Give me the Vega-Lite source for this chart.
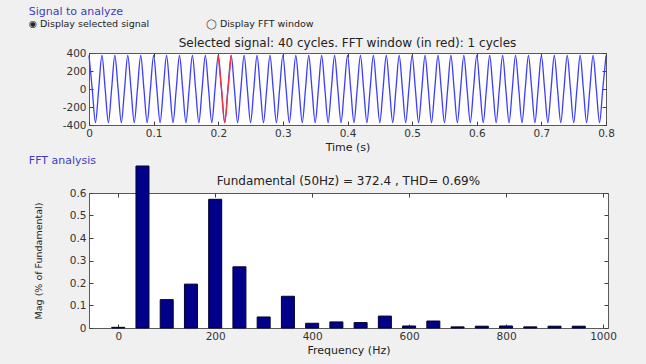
{
  "$schema": "https://vega.github.io/schema/vega-lite/v6.json",
  "background": "#f0f0f0",
  "padding": {"left": 28, "top": 6, "right": 36, "bottom": 17},
  "spacing": 2,
  "datasets": {
    "sig": [
      {"t":0,"v":372.4},{"t":0.005,"v":0},{"t":0.01,"v":-372.4},{"t":0.015,"v":0},
      {"t":0.02,"v":372.4},{"t":0.025,"v":0},{"t":0.03,"v":-372.4},{"t":0.035,"v":0},
      {"t":0.04,"v":372.4},{"t":0.045,"v":0},{"t":0.05,"v":-372.4},{"t":0.055,"v":0},
      {"t":0.06,"v":372.4},{"t":0.065,"v":0},{"t":0.07,"v":-372.4},{"t":0.075,"v":0},
      {"t":0.08,"v":372.4},{"t":0.085,"v":0},{"t":0.09,"v":-372.4},{"t":0.095,"v":0},
      {"t":0.1,"v":372.4},{"t":0.105,"v":0},{"t":0.11,"v":-372.4},{"t":0.115,"v":0},
      {"t":0.12,"v":372.4},{"t":0.125,"v":0},{"t":0.13,"v":-372.4},{"t":0.135,"v":0},
      {"t":0.14,"v":372.4},{"t":0.145,"v":0},{"t":0.15,"v":-372.4},{"t":0.155,"v":0},
      {"t":0.16,"v":372.4},{"t":0.165,"v":0},{"t":0.17,"v":-372.4},{"t":0.175,"v":0},
      {"t":0.18,"v":372.4},{"t":0.185,"v":0},{"t":0.19,"v":-372.4},{"t":0.195,"v":0},
      {"t":0.2,"v":372.4},{"t":0.205,"v":0},{"t":0.21,"v":-372.4},{"t":0.215,"v":0},
      {"t":0.22,"v":372.4},{"t":0.225,"v":0},{"t":0.23,"v":-372.4},{"t":0.235,"v":0},
      {"t":0.24,"v":372.4},{"t":0.245,"v":0},{"t":0.25,"v":-372.4},{"t":0.255,"v":0},
      {"t":0.26,"v":372.4},{"t":0.265,"v":0},{"t":0.27,"v":-372.4},{"t":0.275,"v":0},
      {"t":0.28,"v":372.4},{"t":0.285,"v":0},{"t":0.29,"v":-372.4},{"t":0.295,"v":0},
      {"t":0.3,"v":372.4},{"t":0.305,"v":0},{"t":0.31,"v":-372.4},{"t":0.315,"v":0},
      {"t":0.32,"v":372.4},{"t":0.325,"v":0},{"t":0.33,"v":-372.4},{"t":0.335,"v":0},
      {"t":0.34,"v":372.4},{"t":0.345,"v":0},{"t":0.35,"v":-372.4},{"t":0.355,"v":0},
      {"t":0.36,"v":372.4},{"t":0.365,"v":0},{"t":0.37,"v":-372.4},{"t":0.375,"v":0},
      {"t":0.38,"v":372.4},{"t":0.385,"v":0},{"t":0.39,"v":-372.4},{"t":0.395,"v":0},
      {"t":0.4,"v":372.4},{"t":0.405,"v":0},{"t":0.41,"v":-372.4},{"t":0.415,"v":0},
      {"t":0.42,"v":372.4},{"t":0.425,"v":0},{"t":0.43,"v":-372.4},{"t":0.435,"v":0},
      {"t":0.44,"v":372.4},{"t":0.445,"v":0},{"t":0.45,"v":-372.4},{"t":0.455,"v":0},
      {"t":0.46,"v":372.4},{"t":0.465,"v":0},{"t":0.47,"v":-372.4},{"t":0.475,"v":0},
      {"t":0.48,"v":372.4},{"t":0.485,"v":0},{"t":0.49,"v":-372.4},{"t":0.495,"v":0},
      {"t":0.5,"v":372.4},{"t":0.505,"v":0},{"t":0.51,"v":-372.4},{"t":0.515,"v":0},
      {"t":0.52,"v":372.4},{"t":0.525,"v":0},{"t":0.53,"v":-372.4},{"t":0.535,"v":0},
      {"t":0.54,"v":372.4},{"t":0.545,"v":0},{"t":0.55,"v":-372.4},{"t":0.555,"v":0},
      {"t":0.56,"v":372.4},{"t":0.565,"v":0},{"t":0.57,"v":-372.4},{"t":0.575,"v":0},
      {"t":0.58,"v":372.4},{"t":0.585,"v":0},{"t":0.59,"v":-372.4},{"t":0.595,"v":0},
      {"t":0.6,"v":372.4},{"t":0.605,"v":0},{"t":0.61,"v":-372.4},{"t":0.615,"v":0},
      {"t":0.62,"v":372.4},{"t":0.625,"v":0},{"t":0.63,"v":-372.4},{"t":0.635,"v":0},
      {"t":0.64,"v":372.4},{"t":0.645,"v":0},{"t":0.65,"v":-372.4},{"t":0.655,"v":0},
      {"t":0.66,"v":372.4},{"t":0.665,"v":0},{"t":0.67,"v":-372.4},{"t":0.675,"v":0},
      {"t":0.68,"v":372.4},{"t":0.685,"v":0},{"t":0.69,"v":-372.4},{"t":0.695,"v":0},
      {"t":0.7,"v":372.4},{"t":0.705,"v":0},{"t":0.71,"v":-372.4},{"t":0.715,"v":0},
      {"t":0.72,"v":372.4},{"t":0.725,"v":0},{"t":0.73,"v":-372.4},{"t":0.735,"v":0},
      {"t":0.74,"v":372.4},{"t":0.745,"v":0},{"t":0.75,"v":-372.4},{"t":0.755,"v":0},
      {"t":0.76,"v":372.4},{"t":0.765,"v":0},{"t":0.77,"v":-372.4},{"t":0.775,"v":0},
      {"t":0.78,"v":372.4},{"t":0.785,"v":0},{"t":0.79,"v":-372.4},{"t":0.795,"v":0},
      {"t":0.8,"v":372.4}
    ],
    "fft": [
      {"f":0,"m":0.003},{"f":50,"m":0.72},{"f":100,"m":0.126},{"f":150,"m":0.195},
      {"f":200,"m":0.572},{"f":250,"m":0.272},{"f":300,"m":0.049},{"f":350,"m":0.141},
      {"f":400,"m":0.021},{"f":450,"m":0.027},{"f":500,"m":0.024},{"f":550,"m":0.053},
      {"f":600,"m":0.009},{"f":650,"m":0.031},{"f":700,"m":0.005},{"f":750,"m":0.008},
      {"f":800,"m":0.009},{"f":850,"m":0.005},{"f":900,"m":0.008},{"f":950,"m":0.008}
    ]
  },
  "vconcat": [
    {
      "title": {
        "text": "Signal to analyze",
        "subtitle": "◉ Display selected signal\u2003\u2003\u2003\u2003\u2003\u2003◯ Display FFT window",
        "anchor": "start",
        "dx": -33,
        "color": "#3c3cc8",
        "fontSize": 11,
        "fontWeight": "normal",
        "subtitleColor": "#222222",
        "subtitleFontSize": 9.5,
        "subtitlePadding": 2,
        "offset": 8
      },
      "vconcat": [
        {
          "width": 517,
          "height": 72,
          "title": {
            "text": "Selected signal: 40 cycles. FFT window (in red): 1 cycles",
            "fontSize": 12,
            "fontWeight": "normal",
            "color": "#222222",
            "offset": -2
          },
          "data": {"name": "sig"},
          "layer": [
            {
              "mark": {"type": "line", "interpolate": "monotone", "color": "#3d3dff", "strokeWidth": 1.3},
              "encoding": {
                "x": {"field": "t", "type": "quantitative", "scale": {"domain": [0, 0.8], "nice": false},
                      "axis": {"orient": "bottom", "title": "Time (s)", "values": [0,0.1,0.2,0.3,0.4,0.5,0.6,0.7,0.8], "labelExpr": "'' + datum.value"}},
                "y": {"field": "v", "type": "quantitative", "scale": {"domain": [-400, 400], "nice": false},
                      "axis": {"orient": "left", "title": null, "values": [-400,-200,0,200,400], "labelExpr": "'' + datum.value"}}
              }
            },
            {
              "transform": [{"filter": "datum.t >= 0.2 && datum.t <= 0.22"}],
              "mark": {"type": "line", "interpolate": "monotone", "color": "#ff3030", "strokeWidth": 1.3},
              "encoding": {
                "x": {"field": "t", "type": "quantitative",
                      "axis": {"orient": "top", "title": null, "labels": false, "values": [0,0.1,0.2,0.3,0.4,0.5,0.6,0.7,0.8]}},
                "y": {"field": "v", "type": "quantitative",
                      "axis": {"orient": "right", "title": null, "labels": false, "values": [-400,-200,0,200,400]}}
              }
            }
          ],
          "resolve": {"axis": {"x": "independent", "y": "independent"}}
        }
      ]
    },
    {
      "title": {
        "text": "FFT analysis",
        "anchor": "start",
        "dx": -4,
        "color": "#3c3cc8",
        "fontSize": 11,
        "fontWeight": "normal",
        "offset": -1
      },
      "vconcat": [
        {
          "width": 519,
          "height": 135,
          "title": {
            "text": "Fundamental (50Hz) = 372.4 , THD= 0.69%",
            "fontSize": 12,
            "fontWeight": "normal",
            "color": "#222222",
            "offset": -22
          },
          "data": {"name": "fft"},
          "layer": [
            {
              "mark": {"type": "bar", "size": 13, "color": "#00008b", "stroke": "#000030", "strokeWidth": 1, "clip": false},
              "encoding": {
                "x": {"field": "f", "type": "quantitative", "scale": {"domain": [-50, 1000], "nice": false},
                      "axis": {"orient": "bottom", "title": "Frequency (Hz)", "values": [0,200,400,600,800,1000], "labelExpr": "'' + datum.value"}},
                "y": {"field": "m", "type": "quantitative", "scale": {"domain": [0, 0.6], "nice": false},
                      "axis": {"orient": "left", "title": "Mag (% of Fundamental)", "values": [0,0.1,0.2,0.3,0.4,0.5,0.6], "labelExpr": "'' + datum.value", "titleFontSize": 9.5, "titlePadding": 26}}
              }
            },
            {
              "mark": {"type": "bar", "size": 13, "opacity": 0},
              "encoding": {
                "x": {"field": "f", "type": "quantitative",
                      "axis": {"orient": "top", "title": null, "labels": false, "values": [0,200,400,600,800,1000]}},
                "y": {"field": "m", "type": "quantitative",
                      "axis": {"orient": "right", "title": null, "labels": false, "values": [0,0.1,0.2,0.3,0.4,0.5,0.6]}}
              }
            }
          ],
          "resolve": {"axis": {"x": "independent", "y": "independent"}}
        }
      ]
    }
  ],
  "config": {
    "font": "DejaVu Sans",
    "view": {"stroke": "#5a5a5a", "strokeWidth": 1, "fill": "#ffffff"},
    "axis": {
      "grid": false,
      "domain": false,
      "tickColor": "#404040",
      "tickSize": -4,
      "labelPadding": 7,
      "labelFontSize": 10.5,
      "labelColor": "#333333",
      "titleFontSize": 11,
      "titleFontWeight": "normal",
      "titleColor": "#222222",
      "titlePadding": 3
    },
    "axisX": {"labelFlush": false}
  }
}
